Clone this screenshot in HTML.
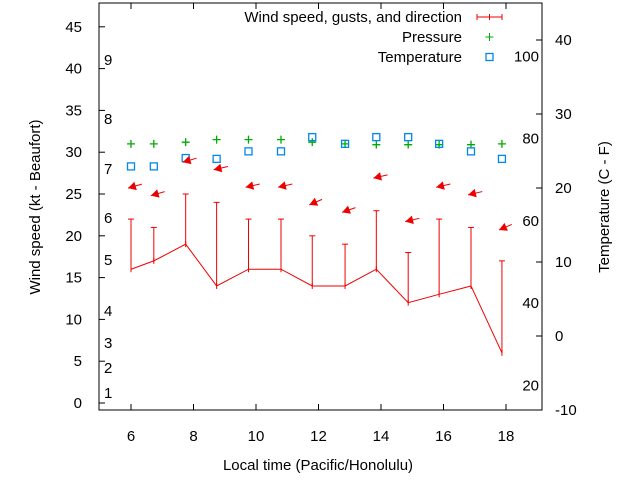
<!DOCTYPE html>
<html><head><meta charset="utf-8"><style>
body{margin:0;background:#fff}
svg text{font-family:"Liberation Sans",sans-serif;font-size:15px}
</style></head><body>
<svg id="c" width="640" height="480" xmlns="http://www.w3.org/2000/svg"></svg>
<script>
const times=[6.0,6.73,7.75,8.74,9.76,10.8,11.8,12.85,13.85,14.87,15.86,16.88,17.87];
const speed=[16,17,19,14,16,16,14,14,16,12,13,14,6];
const gusts=[22,21,25,24,22,22,20,19,23,18,22,21,17];
const pressure=[31.0,31.0,31.2,31.5,31.5,31.5,31.2,31.0,30.9,30.9,30.9,30.9,31.0];
const temperature=[28.3,28.3,29.3,29.2,30.1,30.1,31.8,31.0,31.8,31.8,31.0,30.1,29.2];
const arrowLevel=[25.7,24.8,28.8,27.9,25.8,25.8,23.7,22.8,26.9,21.7,25.8,24.9,20.7];
const direction=[65,65,65,70,70,70,55,60,70,70,70,70,55];
const xTicks=[6,8,10,12,14,16,18];
const yTicks=[0,5,10,15,20,25,30,35,40,45];
const y2Ticks=[-10,0,10,20,30,40];
const fLabels=[20,40,60,80,100];
const beaufortLabels=[1,2,3,4,5,6,7,8,9];
const beaufortPos=[1.2,4.2,7.2,11,17.1,22.1,28,34,41];

const L=99,R=542,T=3,B=410;
const sx=t=>131+(t-6)*31.25;
const sy=v=>403-v*8.36;
const sy2=c=>336-c*7.4;
const svg=document.getElementById('c');
const NS='http://www.w3.org/2000/svg';
function mk(tag,a,name,txt){const e=document.createElementNS(NS,tag);for(const k in a)e.setAttribute(k,a[k]);


if(txt!==undefined)e.textContent=txt;svg.appendChild(e);return e;}
mk('rect',{x:L,y:T,width:R-L,height:B-T,fill:'none',stroke:'#000','stroke-width':1},'plot-frame');
xTicks.forEach(t=>{const x=sx(t);
mk('line',{x1:x,y1:B,x2:x,y2:B-6,stroke:'#000'},'x-tick');
mk('line',{x1:x,y1:T,x2:x,y2:T+6,stroke:'#000'},'x-tick-top');
mk('text',{x:x,y:441,'text-anchor':'middle'},'x-tick-label',t);});
yTicks.forEach(v=>{const y=sy(v);
mk('line',{x1:L,y1:y,x2:L+6,y2:y,stroke:'#000'},'y-tick');
mk('text',{x:82,y:y+5,'text-anchor':'end'},'y-tick-label',v);});
y2Ticks.forEach(c=>{const y=sy2(c);
mk('line',{x1:R,y1:y,x2:R-6,y2:y,stroke:'#000'},'y2-tick');
mk('text',{x:555,y:y+5},'y2-tick-label',c);});
fLabels.forEach(f=>{const y=sy2((f-32)*5/9);
mk('text',{x:539,y:y+5,'text-anchor':'end'},'fahrenheit-label',f);});
beaufortLabels.forEach((b,i)=>mk('text',{x:104,y:sy(beaufortPos[i])+5},'beaufort-label',b));
mk('text',{x:40,y:207,'text-anchor':'middle',transform:'rotate(-90 40 207)'},'y-axis-title','Wind speed (kt - Beaufort)');
mk('text',{x:609,y:207,'text-anchor':'middle',transform:'rotate(-90 609 207)'},'y2-axis-title','Temperature (C - F)');
mk('text',{x:318,y:470,'text-anchor':'middle'},'x-axis-title','Local time (Pacific/Honolulu)');
times.forEach((t,i)=>{const x=sx(t);
mk('line',{x1:x,y1:sy(speed[i]),x2:x,y2:sy(gusts[i]),stroke:'#e00'},'gust-bar');
mk('line',{x1:x-3,y1:sy(gusts[i]),x2:x+3,y2:sy(gusts[i]),stroke:'#e00'},'gust-cap');
mk('line',{x1:x,y1:sy(speed[i])-3,x2:x,y2:sy(speed[i])+3,stroke:'#e00'},'speed-point');
const py=sy(pressure[i]);
mk('path',{d:`M${x-4},${py}h8M${x},${py-4}v8`,stroke:'#0a0','stroke-width':1.3},'pressure-point');
const ty=sy(temperature[i]);
mk('rect',{x:x-3.5,y:ty-3.5,width:7,height:7,fill:'none',stroke:'#08e','stroke-width':1.3},'temperature-point');
const ay=sy(arrowLevel[i]);const a=direction[i]*Math.PI/180;
const tx=x+12*Math.sin(a),tyy=ay-12*Math.cos(a)*0.8;
const hx=x-3,hy=ay;
mk('line',{x1:tx,y1:tyy,x2:hx,y2:hy,stroke:'#e00'},'direction-shaft');
const ang=Math.atan2(hy-tyy,hx-tx);
const p1=[hx-9*Math.cos(ang-0.5),hy-9*Math.sin(ang-0.5)],p2=[hx-9*Math.cos(ang+0.5),hy-9*Math.sin(ang+0.5)];
mk('polygon',{points:`${hx},${hy} ${p1} ${p2}`,fill:'#e00'},'direction-arrow');
});
mk('polyline',{points:times.map((t,i)=>sx(t)+','+sy(speed[i])).join(' '),fill:'none',stroke:'#e00','stroke-width':1},'wind-speed-line');
mk('text',{x:462,y:22,'text-anchor':'end','font-size':'15.8'},'legend-wind-label','Wind speed, gusts, and direction');
mk('path',{d:'M477,17h25M477,14v6M502,14v6M489.5,14v6',stroke:'#e00'},'legend-wind-sample');
mk('text',{x:462,y:42,'text-anchor':'end','font-size':'15.8'},'legend-pressure-label','Pressure');
mk('path',{d:'M485.5,37h8M489.5,33v8',stroke:'#0a0'},'legend-pressure-sample');
mk('text',{x:462,y:62,'text-anchor':'end','font-size':'15.8'},'legend-temperature-label','Temperature');
mk('rect',{x:486,y:53.5,width:7,height:7,fill:'none',stroke:'#08e','stroke-width':1.3},'legend-temperature-sample');
</script>
</body></html>
